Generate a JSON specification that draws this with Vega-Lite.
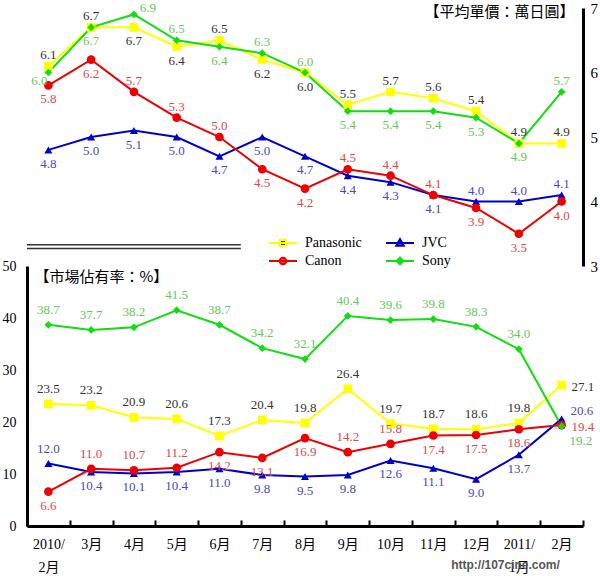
{
  "$schema": "https://vega.github.io/schema/vega-lite/v6.json",
  "padding": {"left": 2, "top": 1, "right": 0, "bottom": 0},
  "background": "white",
  "config": {"view": {"stroke": null}, "font": "Liberation Serif"},
  "spacing": 0,
  "bounds": "flush",
  "datasets": {
    "d": [
      {"m": "2010/|2月", "s": "Panasonic", "p": 6.1, "v": 23.5},
      {"m": "3月", "s": "Panasonic", "p": 6.7, "v": 23.2},
      {"m": "4月", "s": "Panasonic", "p": 6.7, "v": 20.9},
      {"m": "5月", "s": "Panasonic", "p": 6.4, "v": 20.6},
      {"m": "6月", "s": "Panasonic", "p": 6.5, "v": 17.3},
      {"m": "7月", "s": "Panasonic", "p": 6.2, "v": 20.4},
      {"m": "8月", "s": "Panasonic", "p": 6.0, "v": 19.8},
      {"m": "9月", "s": "Panasonic", "p": 5.5, "v": 26.4},
      {"m": "10月", "s": "Panasonic", "p": 5.7, "v": 19.7},
      {"m": "11月", "s": "Panasonic", "p": 5.6, "v": 18.7},
      {"m": "12月", "s": "Panasonic", "p": 5.4, "v": 18.6},
      {"m": "2011/|1月", "s": "Panasonic", "p": 4.9, "v": 19.8},
      {"m": "2月", "s": "Panasonic", "p": 4.9, "v": 27.1},
      {"m": "2010/|2月", "s": "JVC", "p": 4.8, "v": 12.0},
      {"m": "3月", "s": "JVC", "p": 5.0, "v": 10.4},
      {"m": "4月", "s": "JVC", "p": 5.1, "v": 10.1},
      {"m": "5月", "s": "JVC", "p": 5.0, "v": 10.4},
      {"m": "6月", "s": "JVC", "p": 4.7, "v": 11.0},
      {"m": "7月", "s": "JVC", "p": 5.0, "v": 9.8},
      {"m": "8月", "s": "JVC", "p": 4.7, "v": 9.5},
      {"m": "9月", "s": "JVC", "p": 4.4, "v": 9.8},
      {"m": "10月", "s": "JVC", "p": 4.3, "v": 12.6},
      {"m": "11月", "s": "JVC", "p": 4.1, "v": 11.1},
      {"m": "12月", "s": "JVC", "p": 4.0, "v": 9.0},
      {"m": "2011/|1月", "s": "JVC", "p": 4.0, "v": 13.7},
      {"m": "2月", "s": "JVC", "p": 4.1, "v": 20.6},
      {"m": "2010/|2月", "s": "Canon", "p": 5.8, "v": 6.6},
      {"m": "3月", "s": "Canon", "p": 6.2, "v": 11.0},
      {"m": "4月", "s": "Canon", "p": 5.7, "v": 10.7},
      {"m": "5月", "s": "Canon", "p": 5.3, "v": 11.2},
      {"m": "6月", "s": "Canon", "p": 5.0, "v": 14.2},
      {"m": "7月", "s": "Canon", "p": 4.5, "v": 13.1},
      {"m": "8月", "s": "Canon", "p": 4.2, "v": 16.9},
      {"m": "9月", "s": "Canon", "p": 4.5, "v": 14.2},
      {"m": "10月", "s": "Canon", "p": 4.4, "v": 15.8},
      {"m": "11月", "s": "Canon", "p": 4.1, "v": 17.4},
      {"m": "12月", "s": "Canon", "p": 3.9, "v": 17.5},
      {"m": "2011/|1月", "s": "Canon", "p": 3.5, "v": 18.6},
      {"m": "2月", "s": "Canon", "p": 4.0, "v": 19.4},
      {"m": "2010/|2月", "s": "Sony", "p": 6.0, "v": 38.7},
      {"m": "3月", "s": "Sony", "p": 6.7, "v": 37.7},
      {"m": "4月", "s": "Sony", "p": 6.9, "v": 38.2},
      {"m": "5月", "s": "Sony", "p": 6.5, "v": 41.5},
      {"m": "6月", "s": "Sony", "p": 6.4, "v": 38.7},
      {"m": "7月", "s": "Sony", "p": 6.3, "v": 34.2},
      {"m": "8月", "s": "Sony", "p": 6.0, "v": 32.1},
      {"m": "9月", "s": "Sony", "p": 5.4, "v": 40.4},
      {"m": "10月", "s": "Sony", "p": 5.4, "v": 39.6},
      {"m": "11月", "s": "Sony", "p": 5.4, "v": 39.8},
      {"m": "12月", "s": "Sony", "p": 5.3, "v": 38.3},
      {"m": "2011/|1月", "s": "Sony", "p": 4.9, "v": 34.0},
      {"m": "2月", "s": "Sony", "p": 5.7, "v": 19.2}
    ]
  },
  "vconcat": [
    {
      "width": 556,
      "height": 258,
      "data": {"name": "d"},
      "encoding": {
        "x": {"field": "m", "type": "ordinal", "scale": {"type": "band", "domain": ["2010/|2月", "3月", "4月", "5月", "6月", "7月", "8月", "9月", "10月", "11月", "12月", "2011/|1月", "2月"], "paddingInner": 0, "paddingOuter": 0}, "axis": null}
      },
      "layer": [
        {
          "data": {"values": [{}]},
          "mark": {"type": "rule", "color": "#333", "strokeWidth": 1.5},
          "encoding": {
            "x": {"datum": "2010/|2月", "type": "ordinal", "bandPosition": 0},
            "x2": {"datum": "7月", "bandPosition": 0},
            "y": {"datum": 3.33, "type": "quantitative"}
          }
        },
        {
          "data": {"values": [{}]},
          "mark": {"type": "rule", "color": "#333", "strokeWidth": 1.5},
          "encoding": {
            "x": {"datum": "2010/|2月", "type": "ordinal", "bandPosition": 0},
            "x2": {"datum": "7月", "bandPosition": 0},
            "y": {"datum": 3.27, "type": "quantitative"}
          }
        },
        {
          "mark": {"type": "line", "strokeWidth": 2},
          "encoding": {
            "y": {"field": "p", "type": "quantitative", "scale": {"domain": [3, 7], "nice": false, "zero": false},
              "axis": {"orient": "right", "values": [3, 4, 5, 6, 7], "format": "d", "ticks": false, "grid": false, "domainColor": "black", "domainWidth": 3, "labelFont": "Liberation Serif", "labelFontSize": 15, "labelColor": "black", "labelPadding": 7,
                "title": "【平均單價：萬日圓】", "titleAngle": 0, "titleAlign": "right", "titleBaseline": "middle", "titleX": -9, "titleY": 3, "titleFont": "Noto Sans CJK TC", "titleFontSize": 15, "titleFontWeight": "normal", "titleColor": "black"}},
            "color": {"field": "s", "type": "nominal", "scale": {"domain": ["Panasonic", "JVC", "Canon", "Sony"], "range": ["#ffff00", "#0000cc", "#ee0000", "#11dd11"]},
              "legend": {"orient": "none", "legendX": 245, "legendY": 224, "columns": 2, "direction": "horizontal", "title": null, "symbolSize": 400, "symbolStrokeWidth": 2, "symbolType": "M-1.4,0H1.4", "labelFont": "Liberation Serif", "labelFontSize": 14, "labelColor": "black", "labelOffset": 11, "columnPadding": 20, "rowPadding": 0, "padding": 0,
                "encode": {"symbols": {"update": {
                  "shape": {"signal": "datum.value=='Panasonic' ? 'M-1.4,0H1.4M-0.3,-0.3H0.3V0.3H-0.3Z' : datum.value=='JVC' ? 'M-1.4,0H1.4M0,-0.4L0.38,0.28H-0.38Z' : datum.value=='Canon' ? 'M-1.4,0H1.4M0.33,0A0.33,0.33 0 1,1 -0.33,0A0.33,0.33 0 1,1 0.33,0Z' : 'M-1.4,0H1.4M0,-0.33L0.33,0L0,0.33L-0.33,0Z'"},
                  "fill": {"signal": "datum.value=='Panasonic' ? '#ffff00' : datum.value=='JVC' ? '#0000cc' : datum.value=='Canon' ? '#ee0000' : '#11dd11'"}
                }}}}}
          }
        },
        {
          "transform": [{"filter": "datum.s=='Panasonic'"}],
          "mark": {"type": "point", "filled": true, "size": 75, "opacity": 1, "shape": "square", "color": "#ffff00"},
          "encoding": {"y": {"field": "p", "type": "quantitative"}}
        },
        {
          "transform": [{"filter": "datum.s=='JVC'"}],
          "mark": {"type": "point", "filled": true, "size": 65, "opacity": 1, "shape": "triangle-up", "color": "#0000cc"},
          "encoding": {"y": {"field": "p", "type": "quantitative"}}
        },
        {
          "transform": [{"filter": "datum.s=='Canon'"}],
          "mark": {"type": "point", "filled": true, "size": 75, "opacity": 1, "shape": "circle", "color": "#ee0000"},
          "encoding": {"y": {"field": "p", "type": "quantitative"}}
        },
        {
          "transform": [{"filter": "datum.s=='Sony'"}],
          "mark": {"type": "point", "filled": true, "size": 60, "opacity": 1, "shape": "diamond", "color": "#11dd11"},
          "encoding": {"y": {"field": "p", "type": "quantitative"}}
        },
        {
          "transform": [{"filter": "!((datum.s=='Panasonic' && indexof(['4月','5月','7月','8月'],datum.m)>=0) || (datum.s=='Sony' && indexof(['2010/|2月','3月','6月','9月','10月','11月','12月','2011/|1月'],datum.m)>=0) || (datum.s=='Canon' && indexof(['2010/|2月','3月','7月','8月','12月','2011/|1月','2月'],datum.m)>=0) || (datum.s=='JVC' && indexof(['12月','2011/|1月','2月'],datum.m)<0)) && !(datum.s=='Sony' && datum.m=='4月')"}],
          "mark": {"type": "text", "dy": -11, "font": "Liberation Serif", "fontSize": 13, "baseline": "middle"},
          "encoding": {
            "y": {"field": "p", "type": "quantitative"},
            "text": {"field": "p", "type": "quantitative", "format": ".1f"},
            "fill": {"field": "s", "type": "nominal", "scale": {"domain": ["Panasonic", "JVC", "Canon", "Sony"], "range": ["#333333", "#4848c0", "#e04848", "#66c855"]}, "legend": null}
          }
        },
        {
          "transform": [{"filter": "((datum.s=='Panasonic' && indexof(['4月','5月','7月','8月'],datum.m)>=0) || (datum.s=='Sony' && indexof(['3月','6月','9月','10月','11月','12月','2011/|1月'],datum.m)>=0) || (datum.s=='Canon' && indexof(['2010/|2月','3月','7月','8月','12月','2011/|1月','2月'],datum.m)>=0) || (datum.s=='JVC' && indexof(['12月','2011/|1月','2月'],datum.m)<0))"}],
          "mark": {"type": "text", "dy": 14, "font": "Liberation Serif", "fontSize": 13, "baseline": "middle"},
          "encoding": {
            "y": {"field": "p", "type": "quantitative"},
            "text": {"field": "p", "type": "quantitative", "format": ".1f"},
            "fill": {"field": "s", "type": "nominal", "legend": null}
          }
        },
        {
          "transform": [{"filter": "datum.s=='Sony' && datum.m=='4月'"}],
          "mark": {"type": "text", "dy": -6, "dx": 14, "font": "Liberation Serif", "fontSize": 13, "baseline": "middle"},
          "encoding": {
            "y": {"field": "p", "type": "quantitative"},
            "text": {"field": "p", "type": "quantitative", "format": ".1f"},
            "fill": {"field": "s", "type": "nominal", "legend": null}
          }
        },
        {
          "transform": [{"filter": "datum.s=='Sony' && datum.m=='2010/|2月'"}],
          "mark": {"type": "text", "dy": 8, "dx": -9, "font": "Liberation Serif", "fontSize": 13, "baseline": "middle"},
          "encoding": {
            "y": {"field": "p", "type": "quantitative"},
            "text": {"field": "p", "type": "quantitative", "format": ".1f"},
            "fill": {"field": "s", "type": "nominal", "legend": null}
          }
        }
      ]
    },
    {
      "width": 556,
      "height": 260,
      "data": {"name": "d"},
      "encoding": {
        "x": {"field": "m", "type": "ordinal", "scale": {"type": "band", "domain": ["2010/|2月", "3月", "4月", "5月", "6月", "7月", "8月", "9月", "10月", "11月", "12月", "2011/|1月", "2月"], "paddingInner": 0, "paddingOuter": 0},
          "axis": {"tickBand": "extent", "tickSize": -6, "tickWidth": 2, "tickColor": "black", "domainWidth": 3, "domainColor": "black", "labelAngle": 0, "labelOverlap": false, "labelExpr": "split(datum.label,'|')", "labelFont": "Liberation Serif, Noto Sans CJK TC", "labelFontSize": 14, "labelColor": "black", "labelLineHeight": 23, "labelPadding": 17, "labelBaseline": "top",
            "title": "http://107cine.com/", "titleX": 478, "titleY": 38, "titleAnchor": null, "titleAlign": "center", "titleBaseline": "middle", "titleFont": "Liberation Sans", "titleFontSize": 12, "titleFontWeight": "bold", "titleColor": "#555555"}}
      },
      "layer": [
        {
          "mark": {"type": "line", "strokeWidth": 2},
          "encoding": {
            "y": {"field": "v", "type": "quantitative", "scale": {"domain": [0, 50], "nice": false},
              "axis": {"orient": "left", "values": [0, 10, 20, 30, 40, 50], "ticks": false, "grid": false, "domainColor": "black", "domainWidth": 3, "labelFont": "Liberation Serif", "labelFontSize": 14, "labelColor": "black", "labelPadding": 11,
                "title": "【市場佔有率：%】", "titleAngle": 0, "titleAlign": "left", "titleBaseline": "middle", "titleX": 7, "titleY": 10, "titleFont": "Noto Sans CJK TC", "titleFontSize": 15, "titleFontWeight": "normal", "titleColor": "black"}},
            "color": {"field": "s", "type": "nominal", "scale": {"domain": ["Panasonic", "JVC", "Canon", "Sony"], "range": ["#ffff00", "#0000cc", "#ee0000", "#11dd11"]}, "legend": null}
          }
        },
        {
          "transform": [{"filter": "datum.s=='Panasonic'"}],
          "mark": {"type": "point", "filled": true, "size": 75, "opacity": 1, "shape": "square", "color": "#ffff00"},
          "encoding": {"y": {"field": "v", "type": "quantitative"}}
        },
        {
          "transform": [{"filter": "datum.s=='JVC'"}],
          "mark": {"type": "point", "filled": true, "size": 65, "opacity": 1, "shape": "triangle-up", "color": "#0000cc"},
          "encoding": {"y": {"field": "v", "type": "quantitative"}}
        },
        {
          "transform": [{"filter": "datum.s=='Canon'"}],
          "mark": {"type": "point", "filled": true, "size": 75, "opacity": 1, "shape": "circle", "color": "#ee0000"},
          "encoding": {"y": {"field": "v", "type": "quantitative"}}
        },
        {
          "transform": [{"filter": "datum.s=='Sony'"}],
          "mark": {"type": "point", "filled": true, "size": 60, "opacity": 1, "shape": "diamond", "color": "#11dd11"},
          "encoding": {"y": {"field": "v", "type": "quantitative"}}
        },
        {
          "transform": [{"filter": "datum.m!='2月' && !((datum.s=='Canon' && indexof(['2010/|2月','6月','7月','8月','11月','12月','2011/|1月'],datum.m)>=0) || (datum.s=='JVC' && datum.m!='2010/|2月'))"}],
          "mark": {"type": "text", "dy": -15, "font": "Liberation Serif", "fontSize": 13, "baseline": "middle"},
          "encoding": {
            "y": {"field": "v", "type": "quantitative"},
            "text": {"field": "v", "type": "quantitative", "format": ".1f"},
            "fill": {"field": "s", "type": "nominal", "scale": {"domain": ["Panasonic", "JVC", "Canon", "Sony"], "range": ["#333333", "#4848c0", "#e04848", "#66c855"]}, "legend": null}
          }
        },
        {
          "transform": [{"filter": "datum.m!='2月' && ((datum.s=='Canon' && indexof(['2010/|2月','6月','7月','8月','11月','12月','2011/|1月'],datum.m)>=0) || (datum.s=='JVC' && datum.m!='2010/|2月'))"}],
          "mark": {"type": "text", "dy": 14, "font": "Liberation Serif", "fontSize": 13, "baseline": "middle"},
          "encoding": {
            "y": {"field": "v", "type": "quantitative"},
            "text": {"field": "v", "type": "quantitative", "format": ".1f"},
            "fill": {"field": "s", "type": "nominal", "legend": null}
          }
        },
        {
          "transform": [{"filter": "datum.m=='2月' && (datum.s=='Panasonic' || datum.s=='Canon')"}],
          "mark": {"type": "text", "dx": 10, "dy": 2, "align": "left", "font": "Liberation Serif", "fontSize": 13, "baseline": "middle"},
          "encoding": {
            "y": {"field": "v", "type": "quantitative"},
            "text": {"field": "v", "type": "quantitative", "format": ".1f"},
            "fill": {"field": "s", "type": "nominal", "legend": null}
          }
        },
        {
          "transform": [{"filter": "datum.m=='2月' && datum.s=='Sony'"}],
          "mark": {"type": "text", "dx": 8, "dy": 15, "align": "left", "font": "Liberation Serif", "fontSize": 13, "baseline": "middle"},
          "encoding": {
            "y": {"field": "v", "type": "quantitative"},
            "text": {"field": "v", "type": "quantitative", "format": ".1f"},
            "fill": {"field": "s", "type": "nominal", "legend": null}
          }
        },
        {
          "transform": [{"filter": "datum.m=='2月' && datum.s=='JVC'"}],
          "mark": {"type": "text", "dx": 9, "dy": -8, "align": "left", "font": "Liberation Serif", "fontSize": 13, "baseline": "middle"},
          "encoding": {
            "y": {"field": "v", "type": "quantitative"},
            "text": {"field": "v", "type": "quantitative", "format": ".1f"},
            "fill": {"field": "s", "type": "nominal", "legend": null}
          }
        }
      ]
    }
  ]
}
